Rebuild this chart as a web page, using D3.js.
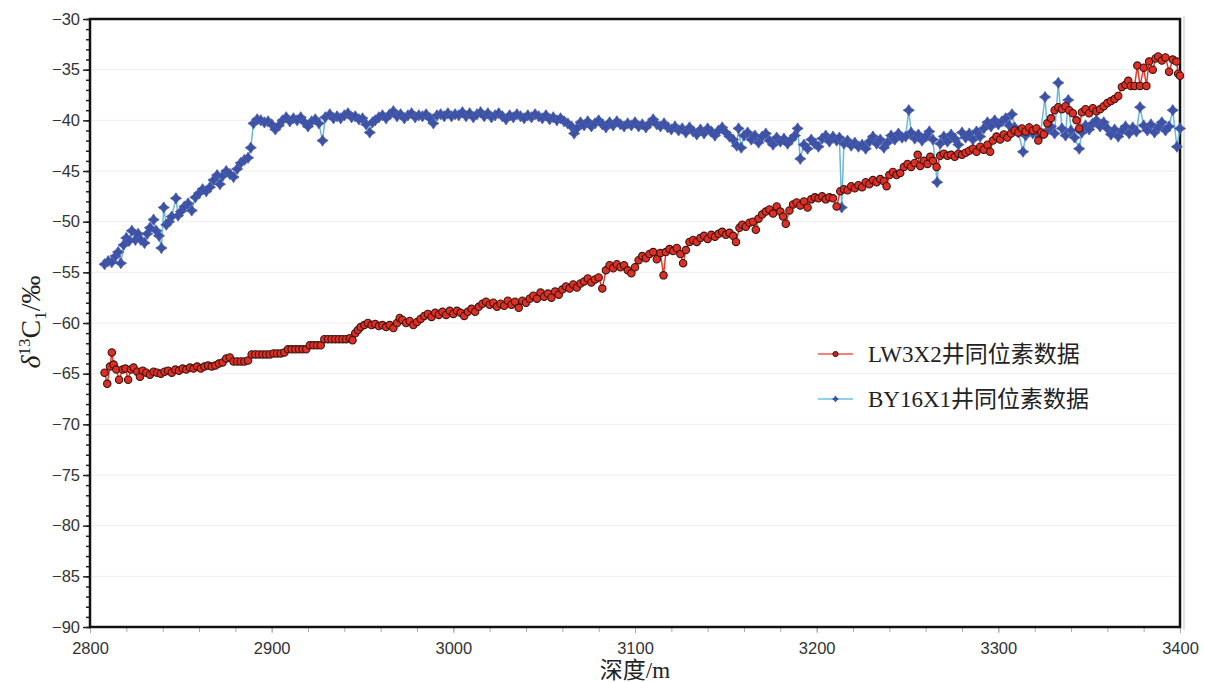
<!DOCTYPE html>
<html>
<head>
<meta charset="utf-8">
<script src="https://cdn.jsdelivr.net/npm/d3@7"></script>
<style>
  body { margin: 0; background: #fff; }
  svg { display: block; }
</style>
</head>
<body>
<script>
// LW3X2 well (red circles)
var lwDepth = [2808,2809.5,2811,2812,2813,2814.5,2816,2818,2819.5,2821,2822.5,2824,2826,2827.5,2829,2831,2833,2835,2837,2839,
  2841,2843,2845,2847,2849,2851,2853,2855,2857,2859,2861,2863,2865,2867,2869,2871,2873,2875,2877,2879,
  2881,2883,2885,2887,2889,2891,2893,2895,2897,2899,2901,2903,2905,2907,2909,2911,2913,2915,2917,2919,
  2921,2923,2925,2927,2929,2931,2933,2935,2937,2939,2941,2943,2944.5,2946,2947.5,2949,2951,2953,2955,2957,
  2959,2961,2963,2965,2967,2969,2970.5,2972,2974,2976,2978,2980,2982,2984,2986,2988,2990,2992,2994,2996,
  2998,3000,3002,3004,3006,3008,3010,3012,3014,3016,3018,3020,3022,3024,3026,3028,3030,3032,3034,3036,
  3038,3040,3042,3044,3046,3048,3050,3052,3054,3056,3058,3060,3062,3064,3066,3068,3070,3072,3074,3076,
  3078,3080,3082,3084,3086,3088,3090,3092,3094,3096,3098,3100,3102,3104,3106,3108,3110,3112,3114,3115.7,
  3117,3119,3121,3123,3125,3126.5,3128,3130,3132,3134,3136,3138,3140,3142,3144,3146,3148,3150,3152,3154,
  3155.6,3157.5,3159,3161,3163,3165,3166.5,3168,3170,3172,3174,3176,3178,3180,3181.5,3183,3185,3187,3189,3191,
  3193,3195,3197,3199,3201,3203,3205,3207,3209,3211,3213,3215,3217,3219,3221,3223,3225,3227,3229,3231,
  3233,3235,3237,3238.5,3240,3242,3244,3246,3248,3250,3252,3254,3255.6,3257,3259,3261,3262.5,3264,3266,3268,
  3270,3272,3274,3276,3278,3280,3282,3284,3286,3288,3290,3292,3294,3295.5,3297,3299,3301,3303,3305,3307,
  3309,3311,3313,3315,3317,3319,3321,3322,3323.5,3325,3327,3329,3331,3333,3335,3337,3339,3341,3343,3344.5,
  3346,3348,3350,3352,3354,3356,3358,3360,3362,3364,3366,3368,3370,3371.5,3373,3375,3376.5,3378,3380,3381.5,
  3383,3385,3386.5,3388,3390,3392,3394,3396,3398,3399,3400];
var lwValue = [-64.9,-66.0,-64.3,-62.9,-64.1,-64.6,-65.6,-64.6,-64.5,-65.6,-64.6,-64.4,-64.8,-65.3,-64.7,-64.9,-65.1,-64.8,-64.9,-65.0,
  -64.8,-64.7,-64.9,-64.6,-64.7,-64.5,-64.6,-64.4,-64.5,-64.3,-64.5,-64.3,-64.2,-64.3,-64.2,-64.0,-63.9,-63.5,-63.4,-63.8,
  -63.8,-63.8,-63.8,-63.7,-63.1,-63.1,-63.1,-63.1,-63.1,-63.1,-63.0,-63.0,-63.0,-62.9,-62.6,-62.6,-62.6,-62.6,-62.6,-62.6,
  -62.2,-62.2,-62.2,-62.2,-61.6,-61.6,-61.6,-61.6,-61.6,-61.6,-61.6,-61.5,-61.7,-61.0,-60.7,-60.4,-60.2,-60.0,-60.2,-60.1,
  -60.3,-60.2,-60.4,-60.2,-60.5,-60.0,-59.5,-59.7,-60.0,-59.8,-60.2,-59.9,-59.6,-59.3,-59.1,-59.4,-59.0,-59.2,-58.9,-59.2,
  -58.8,-59.1,-58.8,-59.0,-59.3,-58.9,-58.6,-58.9,-58.4,-58.1,-57.9,-58.2,-58.0,-58.4,-58.1,-58.3,-57.8,-58.2,-57.9,-58.5,
  -57.8,-58.0,-57.6,-57.3,-57.6,-57.0,-57.4,-57.1,-57.5,-56.9,-57.2,-56.7,-56.4,-56.6,-56.2,-56.5,-56.1,-55.9,-55.6,-56.0,
  -55.7,-55.5,-56.6,-54.8,-54.3,-54.6,-54.2,-54.5,-54.3,-54.8,-55.1,-54.5,-53.8,-53.4,-53.6,-53.2,-53.0,-53.7,-53.1,-55.3,
  -53.0,-52.7,-52.9,-52.6,-53.2,-54.1,-52.8,-52.0,-51.8,-52.0,-51.6,-51.4,-51.7,-51.3,-51.5,-51.2,-51.0,-51.3,-51.1,-51.4,
  -52.0,-50.6,-50.3,-50.5,-50.1,-50.0,-50.8,-49.7,-49.3,-49.0,-48.8,-49.2,-48.5,-49.0,-49.5,-50.2,-48.9,-48.3,-48.1,-48.4,
  -48.0,-48.6,-47.8,-47.6,-47.7,-47.5,-47.8,-47.6,-47.7,-48.5,-47.0,-46.8,-46.9,-46.5,-46.7,-46.4,-46.6,-46.1,-46.3,-45.9,
  -46.1,-45.8,-46.0,-46.5,-45.4,-45.1,-45.4,-45.2,-44.6,-44.3,-44.6,-44.2,-43.4,-44.5,-44.0,-44.3,-43.6,-44.0,-44.6,-43.5,
  -43.3,-43.5,-43.4,-43.6,-43.3,-43.4,-43.2,-43.0,-42.8,-43.1,-42.6,-42.9,-42.4,-43.1,-42.0,-41.6,-41.9,-41.4,-41.7,-41.3,
  -41.0,-41.2,-40.8,-41.1,-40.7,-41.0,-40.8,-42.0,-41.2,-41.4,-40.3,-39.8,-39.0,-38.7,-38.9,-38.6,-39.0,-39.3,-40.0,-40.8,
  -39.2,-38.9,-39.3,-38.8,-39.1,-38.9,-38.6,-38.3,-38.1,-37.9,-37.6,-36.7,-36.5,-36.1,-36.6,-36.6,-34.6,-36.6,-34.8,-36.6,
  -34.2,-35.0,-33.9,-33.7,-34.1,-33.8,-35.2,-34.0,-34.2,-35.4,-35.6];

// BY16X1 well (blue stars)
var byDepth = [2808,2810,2812,2814,2815.5,2817,2818.5,2820,2821.5,2823,2825,2826.5,2828,2830,2831.5,2833,2835,2836.5,2838,2839.3,
  2840.6,2842,2843.5,2845,2847.3,2848.5,2850,2852,2854,2856,2858,2860,2862,2864,2866,2868,2870,2871.5,2873,2875,
  2877,2879,2881,2883,2885,2887,2888.5,2890,2892,2894,2896,2898,2900,2902,2904,2906,2908,2910,2912,2914,
  2916,2918,2920,2922,2924,2926,2928,2929.5,2932,2934,2936,2938,2940,2942,2944,2946,2948,2950,2952,2954,
  2955.5,2957,2959,2961,2963,2965,2967,2969,2971,2973,2975,2977,2979,2981,2983,2985,2987,2989,2991,2993,
  2995,2997,2999,3001,3003,3005,3007,3009,3011,3013,3015,3017,3019,3021,3023,3025,3027,3029,3031,3033,
  3035,3037,3039,3041,3043,3045,3047,3049,3051,3053,3055,3057,3059,3061,3063,3065,3066.5,3068,3070,3072,
  3074,3076,3078,3080,3082,3084,3086,3088,3090,3092,3094,3096,3098,3100,3102,3104,3106,3108,3110,3112,
  3114,3116,3118,3120,3122,3124,3126,3128,3130,3132,3134,3136,3138,3140,3142,3144,3146,3148,3150,3152,
  3154,3156,3157,3158.5,3160,3162,3164,3166,3168,3170,3172,3174,3176,3178,3180,3182,3184,3186,3188,3189.5,
  3191,3193,3195,3197,3199,3201,3203,3205,3207,3209,3211,3212.5,3213.8,3215,3217,3219,3221,3223,3225,3227,
  3229,3231,3233,3235,3237,3239,3241,3243,3245,3247,3249,3250.7,3252,3254,3256,3258,3260,3262,3264,3266.3,
  3268,3270,3272,3274,3276,3278,3280,3282,3284,3286,3288,3290,3292,3294,3296,3298,3300,3302,3304,3306,
  3307.5,3309,3311,3313.6,3315,3317,3319,3321,3323,3325.7,3327,3329,3331,3333,3335,3337,3338.5,3340,3342,3344.5,
  3346,3348,3350,3352,3354,3356,3358,3360,3362,3364,3366,3368,3370,3372,3374,3376,3378,3380,3382,3384,
  3386,3388,3390,3392,3394,3396,3398.3,3400];
var byValue = [-54.2,-53.9,-54.0,-53.4,-53.0,-54.1,-52.3,-51.6,-51.9,-50.9,-51.8,-51.2,-51.8,-52.1,-51.2,-50.6,-49.8,-50.9,-51.4,-52.6,
  -48.6,-50.3,-50.0,-49.5,-47.7,-49.4,-49.0,-48.5,-48.2,-48.9,-47.6,-47.2,-46.8,-47.0,-46.6,-45.9,-45.4,-46.3,-45.5,-45.0,
  -45.3,-45.6,-44.8,-44.2,-43.9,-43.7,-42.7,-40.3,-39.9,-40.0,-40.2,-40.1,-40.4,-40.9,-40.5,-40.0,-39.7,-40.1,-39.8,-40.0,
  -39.7,-40.2,-40.6,-40.1,-39.9,-40.3,-42.0,-39.7,-39.4,-39.8,-39.6,-39.8,-39.5,-39.3,-39.7,-39.6,-39.9,-39.8,-40.4,-41.2,
  -40.2,-40.0,-39.7,-39.5,-39.8,-39.4,-39.1,-39.6,-39.4,-39.8,-39.5,-39.3,-39.7,-39.5,-39.6,-39.4,-39.8,-40.3,-39.5,-39.4,
  -39.6,-39.3,-39.6,-39.4,-39.5,-39.2,-39.6,-39.3,-39.7,-39.4,-39.2,-39.6,-39.3,-39.7,-39.5,-39.3,-39.6,-39.9,-39.5,-39.7,
  -39.4,-39.6,-39.8,-39.5,-39.7,-39.4,-39.6,-39.8,-39.5,-39.9,-39.7,-40.0,-39.8,-40.1,-40.3,-40.6,-41.3,-40.8,-40.2,-40.5,
  -40.1,-40.6,-40.3,-40.0,-40.4,-40.7,-40.2,-40.5,-40.1,-40.4,-40.6,-40.3,-40.5,-40.2,-40.6,-40.4,-40.7,-40.3,-39.9,-40.4,
  -40.6,-40.3,-40.7,-40.9,-40.6,-41.0,-40.8,-41.2,-40.7,-41.1,-41.4,-40.9,-41.3,-40.8,-41.1,-41.5,-41.0,-40.7,-41.2,-41.6,
  -41.9,-42.5,-40.8,-42.7,-41.5,-41.2,-41.9,-41.5,-42.2,-41.6,-41.3,-42.0,-42.4,-41.7,-42.1,-41.8,-42.3,-41.9,-41.5,-40.8,
  -43.8,-42.4,-42.8,-41.9,-42.3,-42.6,-41.8,-41.5,-42.1,-41.6,-42.0,-41.7,-48.6,-42.3,-42.0,-42.5,-42.2,-42.6,-42.4,-42.8,
  -42.1,-41.6,-42.3,-41.9,-42.7,-42.2,-41.5,-41.9,-41.3,-41.7,-41.6,-39.0,-41.2,-41.8,-41.4,-42.0,-41.6,-41.1,-41.9,-46.1,
  -42.3,-41.6,-42.1,-41.4,-41.8,-42.4,-41.2,-41.7,-41.3,-41.9,-41.1,-41.6,-40.8,-40.2,-40.6,-40.0,-40.4,-40.1,-39.8,-40.5,
  -39.4,-40.7,-41.2,-43.1,-41.5,-40.8,-41.3,-40.9,-41.6,-37.7,-41.0,-40.6,-41.3,-36.3,-40.8,-41.5,-38.0,-41.0,-41.7,-42.8,
  -41.2,-40.5,-40.9,-40.3,-40.0,-40.6,-40.2,-40.8,-41.4,-40.9,-41.6,-41.0,-40.6,-41.3,-40.7,-41.1,-38.7,-40.5,-41.0,-40.4,
  -41.2,-40.7,-40.2,-41.0,-40.6,-39.0,-42.6,-40.8];

var yTicks = [-30,-35,-40,-45,-50,-55,-60,-65,-70,-75,-80,-85,-90];
var xTicks = [2800,2900,3000,3100,3200,3300,3400];
var legendNames = ["LW3X2井同位素数据", "BY16X1井同位素数据"];

var W = 1205, H = 682;
var plotLeft = 90, plotRight = 1180, plotTop = 19, plotBottom = 627;

var svg = d3.select("body").append("svg")
    .attr("width", W)
    .attr("height", H);

var x = d3.scaleLinear().domain([2800, 3400]).range([plotLeft, plotRight]);
var y = d3.scaleLinear().domain([-90, -30]).range([plotBottom, plotTop]);

// faint horizontal grid
svg.append("g")
  .selectAll("line")
  .data(yTicks.slice(1, -1))
  .enter().append("line")
    .attr("x1", plotLeft).attr("x2", plotRight)
    .attr("y1", function(d) { return y(d); })
    .attr("y2", function(d) { return y(d); })
    .attr("stroke", "#f3ecec")
    .attr("stroke-width", 1);

// thin grey outer line on the right
svg.append("line")
  .attr("x1", plotRight + 4).attr("x2", plotRight + 4)
  .attr("y1", plotTop - 3).attr("y2", plotBottom + 3)
  .attr("stroke", "#c8c0c0").attr("stroke-width", 1);

// y axis with minor ticks
var yMinor = svg.append("g").attr("transform", "translate(" + plotLeft + ",0)")
  .call(d3.axisLeft(y).tickValues(d3.range(-90, -29, 1)).tickSize(4).tickFormat(""));
yMinor.select(".domain").remove();
yMinor.selectAll("line").attr("stroke", "#222").attr("stroke-width", 1.5);

var yAxis = svg.append("g").attr("transform", "translate(" + plotLeft + ",0)")
  .call(d3.axisLeft(y).tickValues(yTicks).tickSize(7).tickPadding(3));
yAxis.select(".domain").remove();
yAxis.selectAll("line").attr("stroke", "#222").attr("stroke-width", 1.5);
yAxis.selectAll("text")
  .attr("font-family", "'Liberation Sans', Arial, sans-serif")
  .attr("font-size", 16.5)
  .attr("fill", "#333");

// x axis with minor ticks
var xMinor = svg.append("g").attr("transform", "translate(0," + plotBottom + ")")
  .call(d3.axisBottom(x).tickValues(d3.range(2800, 3401, 20)).tickSize(5).tickFormat(""));
xMinor.select(".domain").remove();
xMinor.selectAll("line").attr("stroke", "#aaa");

var xAxis = svg.append("g").attr("transform", "translate(0," + plotBottom + ")")
  .call(d3.axisBottom(x).tickValues(xTicks).tickSize(6).tickPadding(9).tickFormat(d3.format("d")));
xAxis.select(".domain").remove();
xAxis.selectAll("line").attr("stroke", "#aaa");
xAxis.selectAll("text")
  .attr("font-family", "'Liberation Sans', Arial, sans-serif")
  .attr("font-size", 16.5)
  .attr("fill", "#333");

// plot frame
svg.append("rect")
  .attr("x", plotLeft).attr("y", plotTop)
  .attr("width", plotRight - plotLeft).attr("height", plotBottom - plotTop)
  .attr("fill", "none")
  .attr("stroke", "#111")
  .attr("stroke-width", 2.5);

// series
var lwData = lwDepth.map(function(d, i) { return {x: d, y: lwValue[i]}; });
var byData = byDepth.map(function(d, i) { return {x: d, y: byValue[i]}; });

var line = d3.line()
  .x(function(d) { return x(d.x); })
  .y(function(d) { return y(d.y); });

// four point star for the blue markers
var star4 = {
  draw: function(ctx, size) {
    var r = Math.sqrt(size) * 0.75, q = r * 0.4;
    ctx.moveTo(0, -r);
    ctx.lineTo(q, -q);
    ctx.lineTo(r, 0);
    ctx.lineTo(q, q);
    ctx.lineTo(0, r);
    ctx.lineTo(-q, q);
    ctx.lineTo(-r, 0);
    ctx.lineTo(-q, -q);
    ctx.closePath();
  }
};

svg.append("path")
  .datum(byData)
  .attr("fill", "none")
  .attr("stroke", "#6cb8d8")
  .attr("stroke-width", 1.5)
  .attr("d", line);

svg.append("g")
  .selectAll("path")
  .data(byData)
  .enter().append("path")
    .attr("transform", function(d) { return "translate(" + x(d.x) + "," + y(d.y) + ")"; })
    .attr("d", d3.symbol().type(star4).size(56))
    .attr("fill", "#3d51a5")
    .attr("stroke", "#4a5fb0")
    .attr("stroke-width", 0.8);

svg.append("path")
  .datum(lwData)
  .attr("fill", "none")
  .attr("stroke", "#e8392f")
  .attr("stroke-width", 1.5)
  .attr("d", line);

svg.append("g")
  .selectAll("circle")
  .data(lwData)
  .enter().append("circle")
    .attr("cx", function(d) { return x(d.x); })
    .attr("cy", function(d) { return y(d.y); })
    .attr("r", 3.7)
    .attr("fill", "#dd2f25")
    .attr("stroke", "#3a1410")
    .attr("stroke-width", 1.1);

// legend
var legend = svg.append("g");
var lg1 = legend.append("g").attr("transform", "translate(818,354)");
lg1.append("line").attr("x1", 0).attr("x2", 35).attr("stroke", "#f0584a").attr("stroke-width", 1.5);
lg1.append("circle").attr("cx", 17.5).attr("cy", 0).attr("r", 2.6)
  .attr("fill", "#c0281f").attr("stroke", "#3a1410").attr("stroke-width", 1);
lg1.append("text").attr("x", 50).attr("y", 8).text(legendNames[0]);

var lg2 = legend.append("g").attr("transform", "translate(818,399)");
lg2.append("line").attr("x1", 0).attr("x2", 35).attr("stroke", "#6cc0e8").attr("stroke-width", 1.5);
lg2.append("path").attr("transform", "translate(17.5,0)")
  .attr("d", d3.symbol().type(star4).size(22)).attr("fill", "#3d51a5");
lg2.append("text").attr("x", 50).attr("y", 8).text(legendNames[1]);

legend.selectAll("text")
  .attr("font-family", "'Liberation Serif', 'Times New Roman', 'Noto Sans CJK SC', serif")
  .attr("font-size", 23)
  .attr("fill", "#222");

// axis titles
svg.append("text")
  .attr("x", (plotLeft + plotRight) / 2)
  .attr("y", 678)
  .attr("text-anchor", "middle")
  .attr("font-family", "'Liberation Serif', 'Noto Sans CJK SC', serif")
  .attr("font-size", 23)
  .attr("fill", "#222")
  .text("深度/m");

var yt = svg.append("text")
  .attr("transform", "translate(40,322) rotate(-90)")
  .attr("text-anchor", "middle")
  .attr("font-family", "'Liberation Serif', 'Times New Roman', serif")
  .attr("font-size", 28)
  .attr("fill", "#222");
yt.append("tspan").attr("font-style", "italic").text("δ");
yt.append("tspan").attr("font-size", 17).attr("dy", -10).text("13");
yt.append("tspan").attr("dy", 10).text("C");
yt.append("tspan").attr("font-size", 17).attr("dy", 6).text("1");
yt.append("tspan").attr("dy", -6).text("/‰");
</script>
</body>
</html>
